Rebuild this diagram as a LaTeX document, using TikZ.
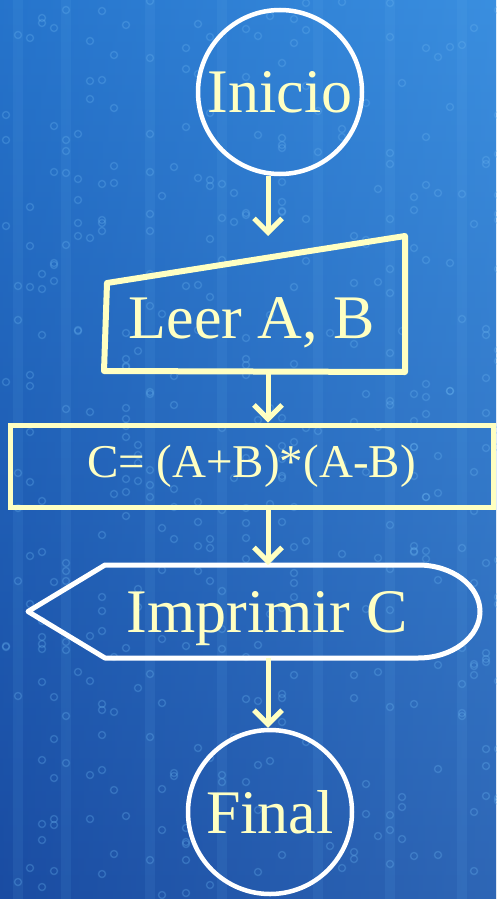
\documentclass[tikz,border=0pt]{standalone}
\usepackage{fontspec}
\setmainfont{Liberation Serif}
\usetikzlibrary{arrows.meta,calc}
\definecolor{fondoalto}{HTML}{2A82DA}
\definecolor{fondobajo}{HTML}{1A4CA2}
\definecolor{fondoluz}{HTML}{6AB4F0}
\definecolor{crema}{HTML}{FFFFC2}

\tikzset{
  flecha/.style={crema, line width=5pt, -{Straight Barb[length=14pt,width=28pt,line width=5pt]}},
  terminal/.style={circle, draw=white, line width=4.5pt, inner sep=0pt, minimum size=164pt,
    text=crema, font=\fontsize{62}{70}\selectfont},
  rotulo/.style={text=crema, font=\fontsize{62}{70}\selectfont, inner sep=0pt},
  matriz/.style={fondoluz, line width=1.4pt, opacity=0.3}
}

\begin{document}
\begin{tikzpicture}[x=1pt,y=-1pt]
  \useasboundingbox (0,0) rectangle (496,899);

  % Background
  \shade[top color=fondoalto, bottom color=fondobajo] (0,0) rectangle (496,899);
  \shade[left color=fondobajo, right color=fondoluz, opacity=0.25] (0,0) rectangle (496,899);
  \pgfmathsetseed{17}
  \foreach \i in {1,...,420}{
    \pgfmathsetmacro\cx{random(0,41)*12+6}
    \pgfmathsetmacro\cy{random(0,899)}
    \draw[matriz] (\cx,\cy) circle[radius=3.5];
  }
  \foreach \cx in {18,66,150,222,318,390,462}{
    \fill[fondoluz, opacity=0.1] (\cx-5,0) rectangle (\cx+5,899);
  }

  % Start
  \node[terminal] (inicio) at (280,92) {Inicio};

  % Input: Leer A, B
  \coordinate (leer-tl) at (107,283);
  \coordinate (leer-tr) at (405,236);
  \coordinate (leer-br) at (405,372);
  \coordinate (leer-bl) at (104,371);
  \draw[crema, line width=6pt, line join=round] (leer-tl) -- (leer-tr) -- (leer-br) -- (leer-bl) -- cycle;
  \node[rotulo, anchor=base] (leer) at (252,338) {Leer A, B};

  % Process
  \node[draw=crema, line width=5pt, minimum width=483pt, minimum height=82pt, inner sep=0pt,
    text=crema, font=\fontsize{47}{54}\selectfont] (proc) at (251.5,466) {\raisebox{-4pt}{C= (A+B)*(A-B)}};

  % Output: Imprimir C
  \coordinate (disp-pt) at (28,611.5);
  \coordinate (disp-tl) at (105,565);
  \coordinate (disp-tr) at (418,565);
  \coordinate (disp-bl) at (105,658);
  \draw[white, line width=5pt, line join=round] (disp-pt) -- (disp-tl) -- (disp-tr)
    arc[start angle=-90, end angle=90, x radius=62, y radius=46.5] -- (disp-bl) -- cycle;
  \node[rotulo, anchor=base] (imprimir) at (267,632) {Imprimir C};

  % End
  \node[terminal] (final) at (270,812) {Final};

  % Connectors
  \coordinate (eje) at (268,0);
  \draw[flecha] (inicio.south -| eje) -- (leer-tr -| eje);
  \draw[flecha] (leer-bl -| eje) -- (proc.north -| eje);
  \draw[flecha] (proc.south -| eje) -- (disp-tl -| eje);
  \draw[flecha] (disp-bl -| eje) -- (final.north -| eje);
\end{tikzpicture}
\end{document}
